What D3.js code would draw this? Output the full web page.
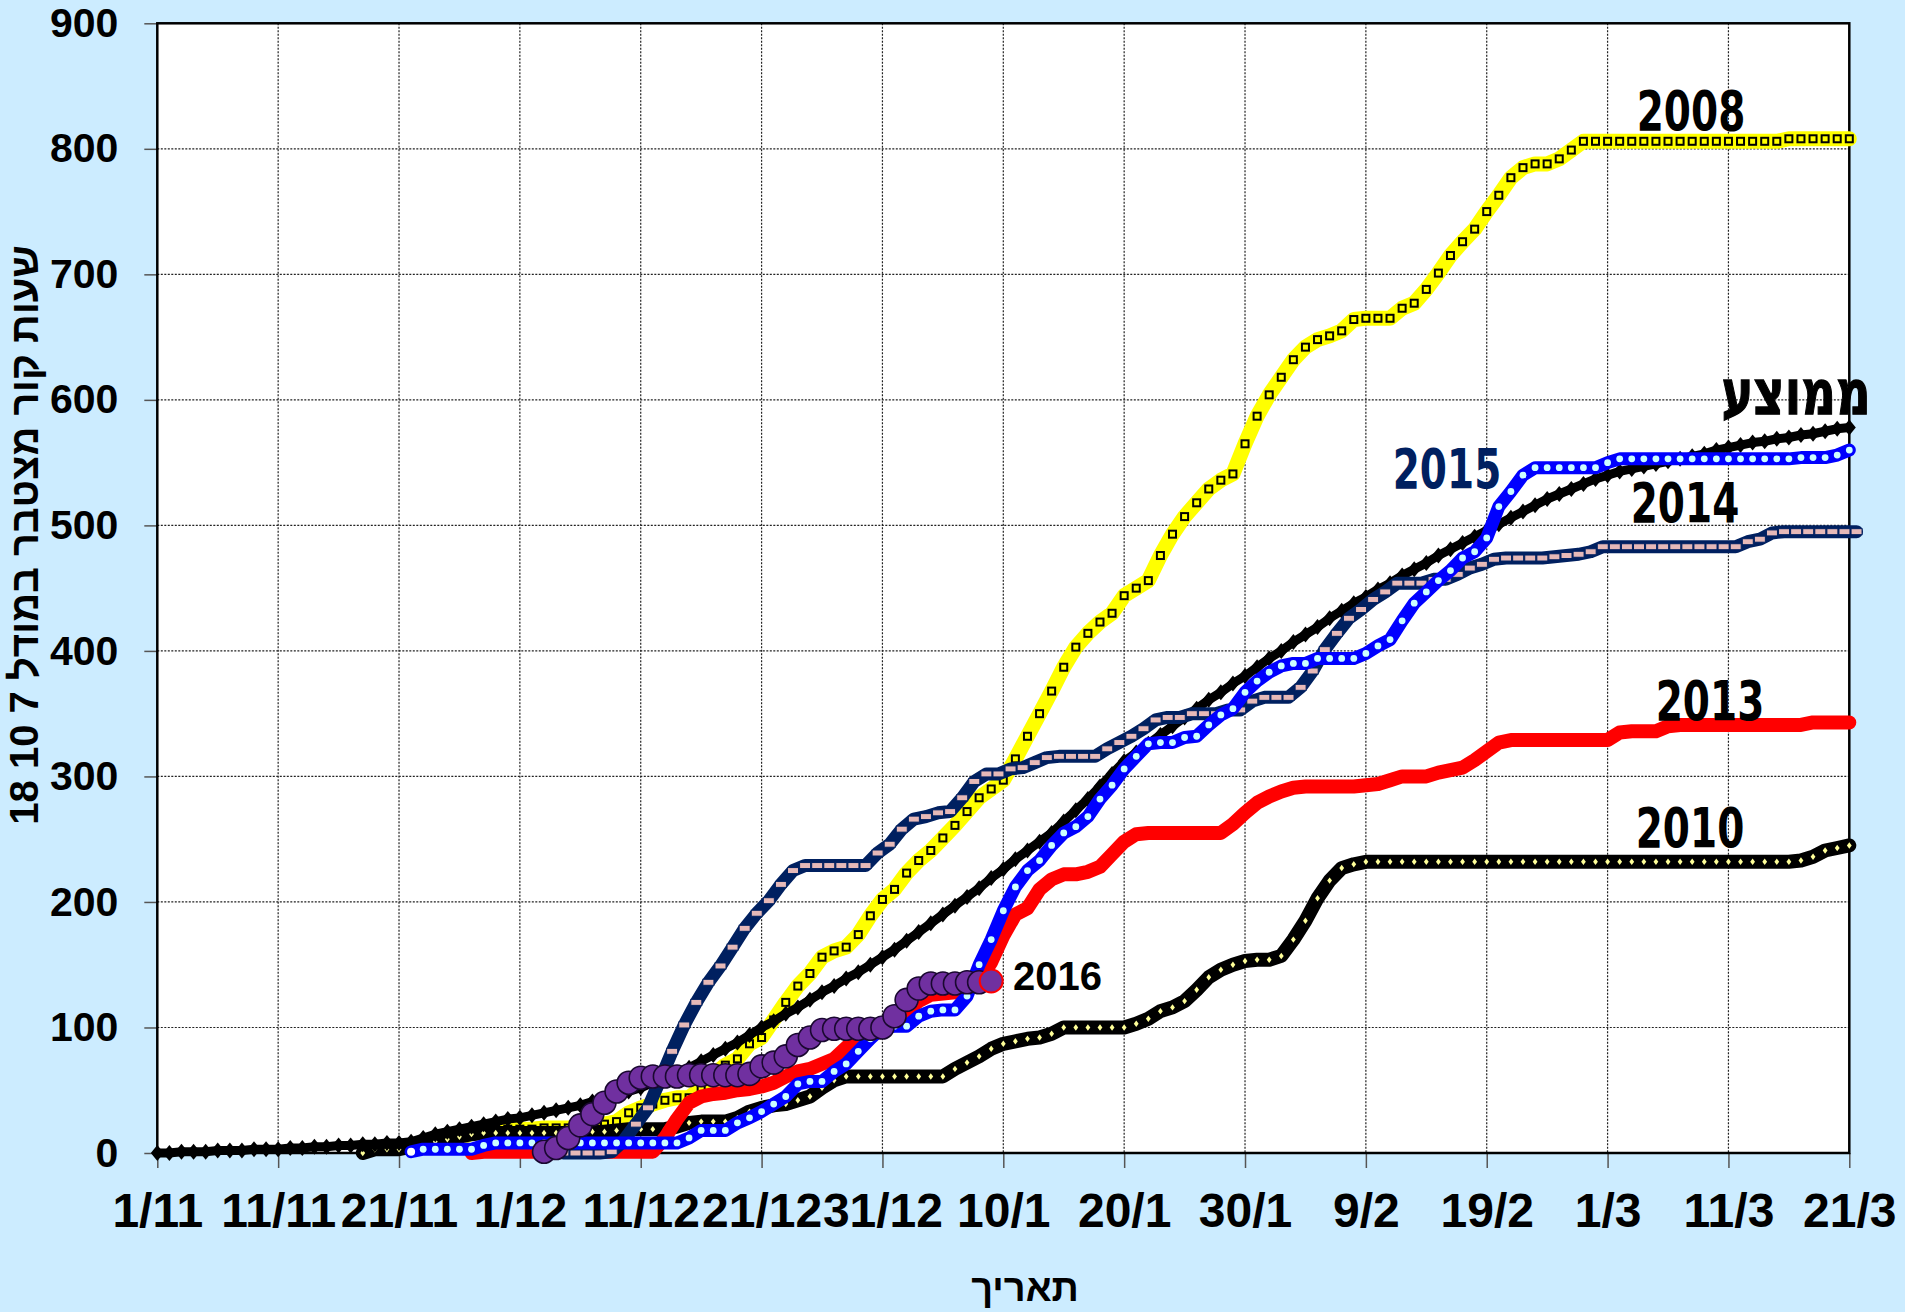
<!DOCTYPE html>
<html><head><meta charset="utf-8">
<script src="https://cdn.jsdelivr.net/npm/d3@7"></script>
<style>html,body{margin:0;padding:0;background:#CCECFF;} svg{display:block}</style>
</head><body>
<svg id="chart" width="1905" height="1312"></svg>
<script>
// ---------------- DATA ----------------
// x = day index from 1/11 (0) to 21/3 (140)
const dayTicks = [0,10,20,30,40,50,60,70,80,90,100,110,120,130,140];
const dayTickLabels = ["1/11","11/11","21/11","1/12","11/12","21/12","31/12","10/1","20/1","30/1","9/2","19/2","1/3","11/3","21/3"];
const yTicks = [0,100,200,300,400,500,600,700,800,900];

const avgStart = 0;
const avgValues = [0,0,1,1,1,2,2,2,3,3,3,
 4,4,5,5,6,6,7,7,8,8,
 9,12,15,17,19,21,23,25,27,28,
 30,32,34,36,38,41,43,46,49,52,
 56,60,64,68,73,78,83,88,94,100,
 105,111,116,122,128,133,139,144,150,156,
 162,169,176,183,190,197,204,211,219,226,
 234,241,248,255,264,273,282,292,302,312,
 319,326,333,340,347,354,361,367,374,380,
 387,394,400,407,413,419,426,432,438,443,
 449,454,460,465,470,476,481,486,491,496,
 501,506,511,516,521,525,529,533,537,540,
 543,545,547,549,551,553,555,557,560,562,
 564,566,567,569,570,572,573,575,577,578];

const y2008Start = 21;
const y2008Values = [6,8,10,11,11,16,18,19,19,19,
 19,20,20,20,21,22,23,25,32,36,
 39,42,44,44,52,62,70,75,87,92,
 106,120,133,143,156,161,164,174,189,202,
 210,223,233,241,251,261,272,283,290,297,
 314,332,350,368,387,403,414,423,430,444,
 450,456,476,493,507,518,529,536,541,565,
 587,604,618,632,642,648,651,655,664,665,
 665,665,673,677,688,701,715,726,736,750,
 763,777,785,788,788,792,799,806,806,806,
 806,806,806,806,806,806,806,806,806,806,
 806,806,806,806,808,808,808,808,808,808];

const y2010Start = 17;
const y2010Values = [0,3,3,3,
 5,7,9,11,13,15,16,16,16,16,
 16,16,16,16,16,17,17,18,19,19,
 19,19,21,24,25,25,25,28,33,36,
 38,39,42,45,52,58,61,61,61,61,
 61,61,61,61,61,67,72,77,83,87,
 89,91,92,95,100,100,100,100,100,100,
 103,107,113,116,121,130,140,146,150,153,
 154,154,157,170,185,203,217,227,230,232,
 232,232,232,232,232,232,232,232,232,232,
 232,232,232,232,232,232,232,232,232,232,
 232,232,232,232,232,232,232,232,232,232,
 232,232,232,232,232,233,236,241,243,245];

const y2013Start = 26;
const y2013Values = [0,1,1,1,1,
 1,1,1,1,1,1,1,1,1,1,
 1,12,27,40,45,47,48,50,51,53,
 56,61,65,67,71,75,84,93,99,103,
 107,113,121,126,127,128,131,137,152,173,
 190,195,210,218,222,222,224,228,238,248,
 254,255,255,255,255,255,255,255,262,271,
 279,284,288,291,292,292,292,292,292,293,
 294,297,300,300,300,303,305,307,313,320,
 327,329,329,329,329,329,329,329,329,329,
 335,336,336,336,340,341,341,341,341,341,
 341,341,341,341,341,341,343,343,343,343];

const y2014Start = 33;
const y2014Values = [0,0,0,0,1,10,23,36,
 58,81,102,120,136,149,164,179,191,201,
 214,225,229,229,229,229,229,229,239,246,
 258,266,268,271,272,283,296,302,302,306,
 307,311,315,316,316,316,316,322,327,332,
 338,345,347,347,350,350,350,353,353,360,
 363,363,363,371,384,401,414,426,433,441,
 447,454,454,454,457,457,461,466,469,473,
 474,474,474,474,475,476,477,479,483,483,
 483,483,483,483,483,483,483,483,483,483,
 487,489,494,495,495,495,495,495,495,495];

const y2015Start = 21;
const y2015Values = [1,3,3,3,3,3,6,8,8,8,
 8,8,8,8,8,8,8,8,8,8,
 8,8,8,12,18,18,18,24,28,33,
 39,45,55,57,57,65,71,81,91,100,
 101,101,109,113,114,114,125,150,170,193,
 212,225,233,245,255,260,268,282,293,306,
 316,326,327,327,331,332,341,349,354,367,
 376,383,388,390,390,394,394,394,394,398,
 404,409,424,438,447,456,464,474,479,490,
 515,527,540,546,546,546,546,546,546,550,
 553,553,553,553,553,553,553,553,553,553,
 553,553,553,553,553,554,554,554,556,560];

const y2016Start = 32;
const y2016Values = [1,4,12,22,31,40,49,56,60,61,
 61,61,62,62,62,62,62,63,69,72,
 77,86,92,98,99,99,99,99,100,109,
 122,131,135,135,135,136,136,137];

const seriesLabels = ["2008","2010","2013","2014","2015","2016","ממוצע"];
const yAxisTitle = "שעות קור מצטבר במודל 7 10 18";
const xAxisTitle = "תאריך";

// ---------------- CHART ----------------
const svg = d3.select("#chart");
const W = 1905, H = 1312;
const P = {left:157.3, right:1849.3, top:23.3, bottom:1153};
const x = d3.scaleLinear().domain([0,140]).range([P.left,P.right]);
const y = d3.scaleLinear().domain([0,900]).range([P.bottom,P.top]);

svg.append("rect").attr("width",W).attr("height",H).attr("fill","#CCECFF");
svg.append("rect").attr("x",P.left).attr("y",P.top).attr("width",P.right-P.left).attr("height",P.bottom-P.top).attr("fill","#fff");

// grid
const grid = svg.append("g");
grid.selectAll(".hg").data(yTicks.filter(v=>v>0&&v<900)).enter().append("line")
  .attr("x1",P.left).attr("x2",P.right).attr("y1",d=>y(d)).attr("y2",d=>y(d))
  .attr("stroke","#222").attr("stroke-width",1.2).attr("stroke-dasharray","2,1.5");
grid.selectAll(".vg").data(dayTicks.filter(v=>v>0&&v<140)).enter().append("line")
  .attr("y1",P.top).attr("y2",P.bottom).attr("x1",d=>x(d)).attr("x2",d=>x(d))
  .attr("stroke","#222").attr("stroke-width",1.2).attr("stroke-dasharray","2,1.5");

// axes
const font = "'Liberation Sans', Arial, 'DejaVu Sans', sans-serif";
const yAxis = svg.append("g").attr("transform",`translate(${P.left},0)`)
  .call(d3.axisLeft(y).tickValues(yTicks).tickSize(13).tickPadding(26).tickFormat(d3.format("d")));
const xAxis = svg.append("g").attr("transform",`translate(0,${P.bottom})`)
  .call(d3.axisBottom(x).tickValues(dayTicks).tickSize(15).tickPadding(25).tickFormat((d,i)=>dayTickLabels[i]));
[yAxis,xAxis].forEach(a=>{
  a.select(".domain").remove();
  a.selectAll(".tick line").attr("stroke","#555").attr("stroke-width",1.5);
  a.selectAll("text").attr("font-family",font).attr("font-weight","bold").attr("fill","#000");
});
yAxis.selectAll("text").attr("font-size",41);
xAxis.selectAll("text").attr("font-size",48);

// border
svg.append("rect").attr("x",P.left).attr("y",P.top).attr("width",P.right-P.left).attr("height",P.bottom-P.top)
  .attr("fill","none").attr("stroke","#000").attr("stroke-width",2.5);

// series
const layer = svg.append("g");
function pts(vals,start,shift){ return vals.map((v,i)=>({d:start+i+(shift||0), v:v})); }
const line = d3.line().x(p=>x(p.d)).y(p=>y(p.v));
function drawPath(data,color,width){
  layer.append("path").datum(data).attr("d",line).attr("fill","none")
    .attr("stroke",color).attr("stroke-width",width).attr("stroke-linejoin","round").attr("stroke-linecap","round");
}

// 2008
const p2008 = pts(y2008Values,y2008Start);
drawPath(p2008,"#FFFF00",15);
layer.append("g").selectAll("rect").data(p2008).enter().append("rect")
  .attr("x",p=>x(p.d)-3.5).attr("y",p=>y(p.v)-3.5).attr("width",7).attr("height",7)
  .attr("fill","#FFFF00").attr("stroke","#000").attr("stroke-width",2);

// 2010
const p2010 = pts(y2010Values,y2010Start);
drawPath(p2010,"#000",14);
layer.append("g").selectAll("path").data(p2010).enter().append("path")
  .attr("d",p=>`M${x(p.d)},${y(p.v)-3.2}L${x(p.d)+2.4},${y(p.v)}L${x(p.d)},${y(p.v)+3.2}L${x(p.d)-2.4},${y(p.v)}Z`)
  .attr("fill","#FFFF99");

// average
const pAvg = pts(avgValues,avgStart);
drawPath(pAvg,"#000",9);
layer.append("g").selectAll("path").data(pAvg).enter().append("path")
  .attr("d",p=>`M${x(p.d)},${y(p.v)-8}L${x(p.d)+6.5},${y(p.v)}L${x(p.d)},${y(p.v)+8}L${x(p.d)-6.5},${y(p.v)}Z`)
  .attr("fill","#000");

// 2013
const p2013 = pts(y2013Values,y2013Start);
drawPath(p2013,"#FF0000",14);

// 2014 (plotted slightly right of day positions as in the original)
const p2014 = pts(y2014Values,y2014Start,0.6);
drawPath(p2014,"#002060",13);
layer.append("g").selectAll("rect").data(p2014).enter().append("rect")
  .attr("x",p=>x(p.d)-5.5).attr("y",p=>y(p.v)-3).attr("width",11).attr("height",6)
  .attr("fill","#E6B9B8").attr("stroke","#002060").attr("stroke-width",1);

// 2015
const p2015 = pts(y2015Values,y2015Start);
drawPath(p2015,"#0000FF",13);
layer.append("g").selectAll("circle").data(p2015).enter().append("circle")
  .attr("cx",p=>x(p.d)).attr("cy",p=>y(p.v)).attr("r",(p,i)=>i===0?4:3.4)
  .attr("fill",(p,i)=>i===0?"#fff":"#CCFFFF");

// 2016
const p2016 = pts(y2016Values,y2016Start);
layer.append("g").selectAll("circle").data(p2016).enter().append("circle")
  .attr("cx",p=>x(p.d)).attr("cy",p=>y(p.v)).attr("r",11.5)
  .attr("fill","#7030A0").attr("stroke",(p,i)=>i===p2016.length-1?"#FF0000":"#1A0830")
  .attr("stroke-width",(p,i)=>i===p2016.length-1?2:1.6);

// series labels
const lblFont = "'DejaVu Sans', Verdana, sans-serif";
function yearLabel(txt,cx,base,color){
  svg.append("text").attr("transform",`translate(${cx},${base}) scale(1,1.4)`)
    .attr("text-anchor","middle").attr("font-family",lblFont).attr("font-weight","bold")
    .attr("font-size",39).attr("fill",color||"#000").text(txt);
}
yearLabel(seriesLabels[0],1691,130);
yearLabel(seriesLabels[4],1447,488,"#002060");
yearLabel(seriesLabels[3],1685,522);
yearLabel(seriesLabels[2],1710,720);
yearLabel(seriesLabels[1],1690,847);
svg.append("text").attr("transform",`translate(1796,414) scale(1,1.3)`)
  .attr("text-anchor","middle").attr("font-family",lblFont).attr("font-weight","bold")
  .attr("font-size",48).attr("direction","rtl").attr("stroke","#000").attr("stroke-width",1).text(seriesLabels[6]);
svg.append("text").attr("x",1013).attr("y",990).attr("font-family",font).attr("font-weight","bold")
  .attr("font-size",40).text(seriesLabels[5]);

// axis titles
svg.append("text").attr("transform","translate(38,535) rotate(-90)").attr("text-anchor","middle")
  .attr("direction","rtl").attr("font-family",font).attr("font-weight","bold").attr("font-size",40).text(yAxisTitle);
svg.append("text").attr("x",1025).attr("y",1301).attr("text-anchor","middle")
  .attr("direction","rtl").attr("font-family",font).attr("font-weight","bold").attr("font-size",38).text(xAxisTitle);
</script>
</body></html>
